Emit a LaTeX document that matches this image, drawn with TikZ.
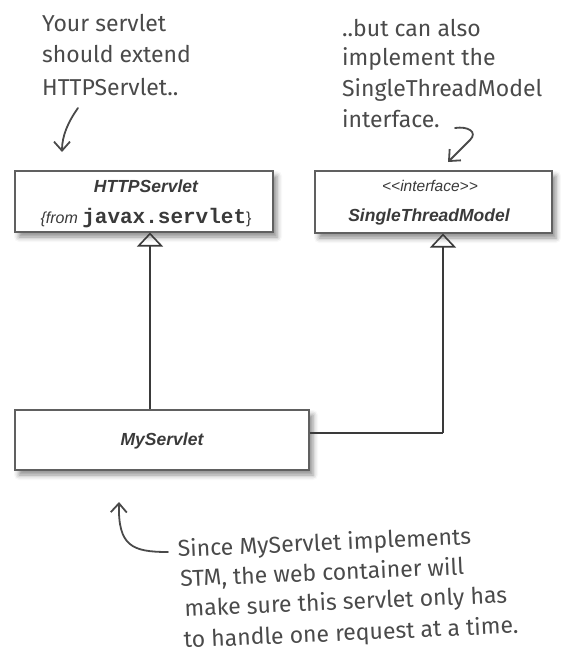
\documentclass[tikz,border=0pt]{standalone}
\usepackage{fontspec}
\setmainfont{Liberation Sans}
\newfontfamily\handfont{Fira Sans}
\newfontfamily\codefont{Liberation Mono}
\usetikzlibrary{arrows.meta,shadows.blur}
\definecolor{ink}{HTML}{3A3A3A}
\definecolor{hand}{HTML}{4A4A4A}
\definecolor{frame}{HTML}{606060}
\begin{document}
\begin{tikzpicture}[x=1pt,y=-1pt,
  umlbox/.style={draw=frame, line width=1.1pt, fill=white, inner sep=0pt,
    blur shadow={shadow xshift=4pt, shadow yshift=-5pt, shadow blur radius=5pt, shadow opacity=45},
    text=ink, align=center},
  clsname/.style={font=\fontsize{17.5}{20}\selectfont\bfseries\itshape},
  inherit/.style={draw=ink, line width=2.4pt,
    -{Triangle[open, length=14pt, width=26pt, line width=1.6pt]}},
  implink/.style={draw=ink, line width=2.4pt},
  note/.style={font=\handfont\fontsize{23}{31}\selectfont, text=hand, inner sep=0pt, anchor=base west},
  handarrow/.style={draw=hand, line width=1.8pt, line cap=round,
    -{Straight Barb[length=9pt, width=16pt, line width=1.8pt]}}
]
\useasboundingbox (0,0) rectangle (560,666);

% class boxes
\node[umlbox, minimum width=258pt, minimum height=61pt] (http) at (144,201.5) {};
\node[clsname, text=ink] (httpname) at (146,186) {HTTPServlet};
\node[text=ink, inner sep=0pt] (httppkg) at (146,218)
  {{\fontsize{16}{18}\selectfont\itshape\{from }{\codefont\bfseries\fontsize{21}{22}\selectfont javax.servlet}{\fontsize{16}{18}\selectfont\}}};

\node[umlbox, minimum width=237pt, minimum height=62pt] (stm) at (433.5,202) {};
\node[text=ink, font=\fontsize{15.5}{18}\selectfont\itshape] (stereo) at (430,186) {<{}<interface>{}>};
\node[clsname, text=ink] (stmname) at (429,217) {SingleThreadModel};

\node[umlbox, minimum width=294pt, minimum height=60pt] (my) at (162,440) {};
\node[clsname, text=ink] (myname) at (162,441) {MyServlet};

% relations
\draw[inherit] (my.north -| 150,0) -- (http.south -| 150,0);
\draw[implink] (my.east |- 0,433) -- (443,433) coordinate (bend);
\draw[inherit] (bend) -- (stm.south -| 443,0);

% annotation 1
\node[note] (n1a) at (42,32) {Your servlet};
\node[note] (n1b) at (42,63) {should extend};
\node[note] (n1c) at (42,96) {HTTPServlet..};

% annotation 2
\node[note] (n2a) at (342,37) {..but can also};
\node[note] (n2b) at (342,66) {implement the};
\node[note] (n2c) at (342,97) {SingleThreadModel};
\node[note] (n2d) at (342,128) {interface.};

% annotation 3 (slightly tilted)
\begin{scope}[shift={(178,557)}, rotate=2.5]
\node[note, rotate=2.5] (n3a) at (0,0) {Since MyServlet implements};
\node[note, rotate=2.5] (n3b) at (1,30) {STM, the web container will};
\node[note, rotate=2.5] (n3c) at (4,60) {make sure this servlet only has};
\node[note, rotate=2.5] (n3d) at (2,91) {to handle one request at a time.};
\end{scope}

% hand-drawn arrows
\coordinate (a1s) at (78,108);
\coordinate (a1e) at (62,152);
\draw[handarrow] (a1s) .. controls (68,122) and (62,136) .. (a1e);
\coordinate (a2s) at (455,128);
\coordinate (a2e) at (448,162);
\draw[handarrow] (a2s) .. controls (468,126) and (478,132) .. (470,140) -- (a2e);
\coordinate (a3s) at (168,552);
\coordinate (a3e) at (119,502);
\draw[handarrow] (a3s) .. controls (132,552) and (118,546) .. (a3e);
\end{tikzpicture}
\end{document}
